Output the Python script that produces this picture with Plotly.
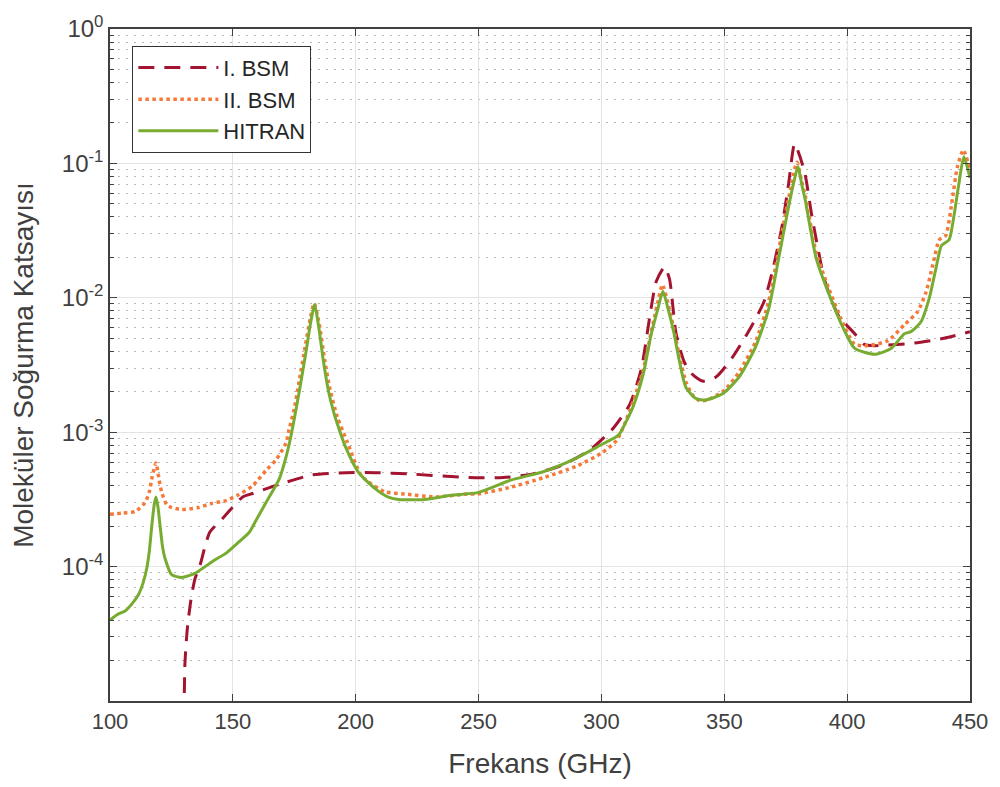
import plotly.graph_objects as go

# ---------------- data ----------------
bsm1_freq = [129.9, 130.5, 131.5, 132.9, 134.5, 136.6, 140.6, 146.0, 154.0, 158.1,
             169.0, 182.0, 196.0, 208.0, 221.0, 246.0, 260.0, 272.5, 284.6, 295.4,
             304.8, 311.6, 316.3, 319.6, 322.3, 325.7, 327.7, 330.4, 333.8, 337.0,
             341.2, 346.6, 353.3, 360.7, 366.1, 369.5, 373.5, 376.2, 378.6, 380.6,
             382.9, 385.6, 391.0, 396.4, 403.1, 407.0, 411.0, 416.6, 427.3, 439.4,
             450.0]
bsm1_val = [3.0e-6, 1.9e-5, 3.5e-5, 5.6e-5, 8.0e-5, 1.02e-4, 1.8e-4, 2.3e-4, 3.3e-4, 3.5e-4,
            4.1e-4, 4.8e-4, 5.0e-4, 5.0e-4, 4.9e-4, 4.6e-4, 4.6e-4, 4.9e-4, 5.75e-4, 7.4e-4,
            1.07e-3, 1.62e-3, 3.0e-3, 7.1e-3, 1.32e-2, 1.7e-2, 1.38e-2, 5.4e-3, 3.3e-3, 2.7e-3,
            2.4e-3, 2.57e-3, 3.6e-3, 5.96e-3, 9.3e-3, 1.55e-2, 3.4e-2, 7.1e-2, 0.14, 0.115,
            8.3e-2, 4.1e-2, 1.32e-2, 7.4e-3, 5.4e-3, 4.5e-3, 4.4e-3, 4.45e-3, 4.6e-3, 5.0e-3,
            5.6e-3]

bsm2_freq = [100.0, 105.0, 110.3, 114.3, 116.0, 117.0, 118.7, 120.0, 121.1, 123.0,
             125.1, 129.2, 135.9, 141.3, 147.3, 152.0, 158.1, 163.5, 167.5, 171.6,
             172.9, 175.0, 177.0, 179.5, 181.5, 183.1, 185.2, 187.3, 189.5, 192.5,
             196.5, 202.5, 212.0, 220.0, 232.1, 245.6, 249.6, 263.1, 276.6, 290.0,
             300.1, 306.2, 309.0, 313.0, 317.0, 320.3, 322.8, 324.8, 327.2, 329.5,
             332.0, 334.6, 337.5, 340.5, 345.0, 350.0, 356.0, 362.7, 368.0, 372.0,
             376.0, 379.6, 381.3, 383.0, 387.3, 392.3, 399.1, 403.1, 408.5, 416.6,
             423.3, 428.7, 432.1, 434.8, 437.5, 440.1, 442.8, 444.8, 447.3, 450.0]
bsm2_val = [2.45e-4, 2.5e-4, 2.57e-4, 3.0e-4, 3.6e-4, 4.5e-4, 5.9e-4, 4.4e-4, 3.55e-4, 2.9e-4,
            2.75e-4, 2.66e-4, 2.75e-4, 2.95e-4, 3.1e-4, 3.4e-4, 4.0e-4, 5.2e-4, 6.2e-4, 8.3e-4,
            1.05e-3, 1.5e-3, 2.4e-3, 4.4e-3, 7.0e-3, 9.1e-3, 6.3e-3, 3.5e-3, 2.1e-3, 1.3e-3,
            8.5e-4, 4.7e-4, 3.6e-4, 3.47e-4, 3.3e-4, 3.47e-4, 3.47e-4, 3.9e-4, 4.6e-4, 5.6e-4,
            7.0e-4, 8.7e-4, 1.1e-3, 1.7e-3, 2.9e-3, 5.6e-3, 9.0e-3, 1.25e-2, 8.9e-3, 5.8e-3,
            3.5e-3, 2.3e-3, 1.85e-3, 1.7e-3, 1.8e-3, 2.05e-3, 2.8e-3, 4.7e-3, 9.3e-3, 2.2e-2,
            5.3e-2, 0.102, 7.6e-2, 5.7e-2, 2.2e-2, 1.2e-2, 6.0e-3, 4.5e-3, 4.4e-3, 4.8e-3,
            6.3e-3, 7.9e-3, 1.1e-2, 1.74e-2, 2.7e-2, 2.9e-2, 5.4e-2, 9.3e-2, 0.126, 8.9e-2]

hitran_freq = [100.0, 103.0, 106.3, 109.0, 111.6, 113.5, 115.0, 116.0, 117.0, 118.0,
               118.7, 119.5, 120.4, 121.4, 122.4, 125.1, 129.2, 134.5, 142.6, 147.3,
               152.0, 156.7, 159.4, 163.5, 168.9, 171.6, 173.6, 176.9, 179.6, 181.7,
               183.3, 185.0, 187.0, 189.1, 191.1, 192.4, 195.8, 201.2, 207.9, 213.0,
               217.3, 228.1, 238.9, 249.6, 263.1, 276.6, 290.0, 300.1, 306.2, 307.5,
               312.9, 317.0, 320.3, 323.0, 325.0, 327.1, 329.4, 331.7, 334.4, 338.5,
               342.5, 349.3, 356.0, 362.7, 368.1, 372.1, 376.2, 378.5, 380.0, 381.5,
               382.9, 387.3, 392.3, 399.1, 403.1, 411.2, 417.9, 423.3, 426.0, 430.0,
               433.4, 436.1, 438.4, 441.5, 443.5, 445.5, 447.5, 450.0]
hitran_val = [4.0e-5, 4.4e-5, 4.7e-5, 5.3e-5, 6.2e-5, 7.6e-5, 9.8e-5, 1.3e-4, 2.0e-4, 2.9e-4,
              3.3e-4, 2.8e-4, 2.0e-4, 1.4e-4, 1.15e-4, 8.7e-5, 8.3e-5, 8.9e-5, 1.12e-4, 1.26e-4,
              1.5e-4, 1.8e-4, 2.2e-4, 3.0e-4, 4.5e-4, 6.5e-4, 9.3e-4, 1.95e-3, 3.8e-3, 6.6e-3,
              8.9e-3, 5.96e-3, 3.24e-3, 1.95e-3, 1.4e-3, 1.17e-3, 7.8e-4, 5.0e-4, 3.8e-4, 3.3e-4,
              3.16e-4, 3.16e-4, 3.4e-4, 3.55e-4, 4.4e-4, 5.1e-4, 6.45e-4, 8.1e-4, 9.3e-4, 9.8e-4,
              1.55e-3, 2.7e-3, 5.4e-3, 8.3e-3, 1.12e-2, 8.3e-3, 5.6e-3, 3.4e-3, 2.15e-3, 1.78e-3,
              1.74e-3, 1.93e-3, 2.57e-3, 4.3e-3, 8.3e-3, 1.95e-2, 4.8e-2, 7.5e-2, 9.5e-2, 7.0e-2,
              5.4e-2, 2.0e-2, 1.1e-2, 5.6e-3, 4.2e-3, 3.8e-3, 4.2e-3, 5.4e-3, 5.6e-3, 6.6e-3,
              9.9e-3, 1.64e-2, 2.45e-2, 2.7e-2, 4.1e-2, 7.1e-2, 0.112, 7.8e-2]

series_names = ["I. BSM", "II. BSM", "HITRAN"]
x_ticks = [100, 150, 200, 250, 300, 350, 400, 450]
y_major = [1e-4, 1e-3, 1e-2, 1e-1, 1]
y_major_text = ["10<sup>-4</sup>", "10<sup>-3</sup>", "10<sup>-2</sup>",
                "10<sup>-1</sup>", "10<sup>0</sup>"]
y_minor = [k * 10.0 ** d for d in range(-5, 0) for k in range(2, 10)]

# ---------------- styles ----------------
FONT = "Liberation Sans, Arial, sans-serif"
AXC = "#404040"
GRID = "#e3e3e3"
MINOR_GRID = "#b8b8b8"

fig = go.Figure()
fig.add_trace(go.Scatter(x=bsm1_freq, y=bsm1_val, name=series_names[0], mode="lines",
                         line=dict(color="#A2142F", width=3, dash="16px,10px",
                                   shape="spline", smoothing=0.6)))
fig.add_trace(go.Scatter(x=bsm2_freq, y=bsm2_val, name=series_names[1], mode="lines",
                         line=dict(color="#F57A3A", width=3.5, dash="3.5px,3.5px",
                                   shape="spline", smoothing=0.6)))
fig.add_trace(go.Scatter(x=hitran_freq, y=hitran_val, name=series_names[2], mode="lines",
                         line=dict(color="#77AC30", width=3, shape="spline", smoothing=0.6)))

fig.update_layout(
    width=1000, height=787,
    margin=dict(l=110, r=22, t=20, b=86),
    paper_bgcolor="white", plot_bgcolor="white",
    font=dict(family=FONT, color="#262626"),
    showlegend=True,
    legend=dict(x=0.026, y=0.975, xanchor="left", yanchor="top",
                bgcolor="white", bordercolor="#333333", borderwidth=1,
                font=dict(size=22, color="#262626", family=FONT),
                tracegroupgap=0, itemwidth=80),
)
fig.update_xaxes(
    range=[100, 450], tickvals=x_ticks,
    showline=True, linecolor=AXC, linewidth=1.5, mirror="ticks",
    ticks="inside", ticklen=7, tickcolor=AXC, tickwidth=1,
    showgrid=True, gridcolor=GRID, gridwidth=1, zeroline=False,
    tickfont=dict(size=22, color="#404040"),
    title=dict(text="Frekans (GHz)", font=dict(size=28, color="#404040"), standoff=20),
)
fig.update_yaxes(
    type="log", range=[-5, 0], tickvals=y_major, ticktext=y_major_text,
    showline=True, linecolor=AXC, linewidth=1.5, mirror="ticks",
    ticks="inside", ticklen=7, tickcolor=AXC, tickwidth=1,
    showgrid=True, gridcolor=GRID, gridwidth=1, zeroline=False,
    tickfont=dict(size=24, color="#404040"),
    minor=dict(tickvals=y_minor, ticks="inside", ticklen=4, tickcolor=AXC,
               showgrid=True, gridcolor=MINOR_GRID, griddash="2px,6px", gridwidth=1),
    title=dict(text="Moleküler Soğurma Katsayısı", font=dict(size=28, color="#404040"),
               standoff=20),
)

fig.write_html("out.html")
